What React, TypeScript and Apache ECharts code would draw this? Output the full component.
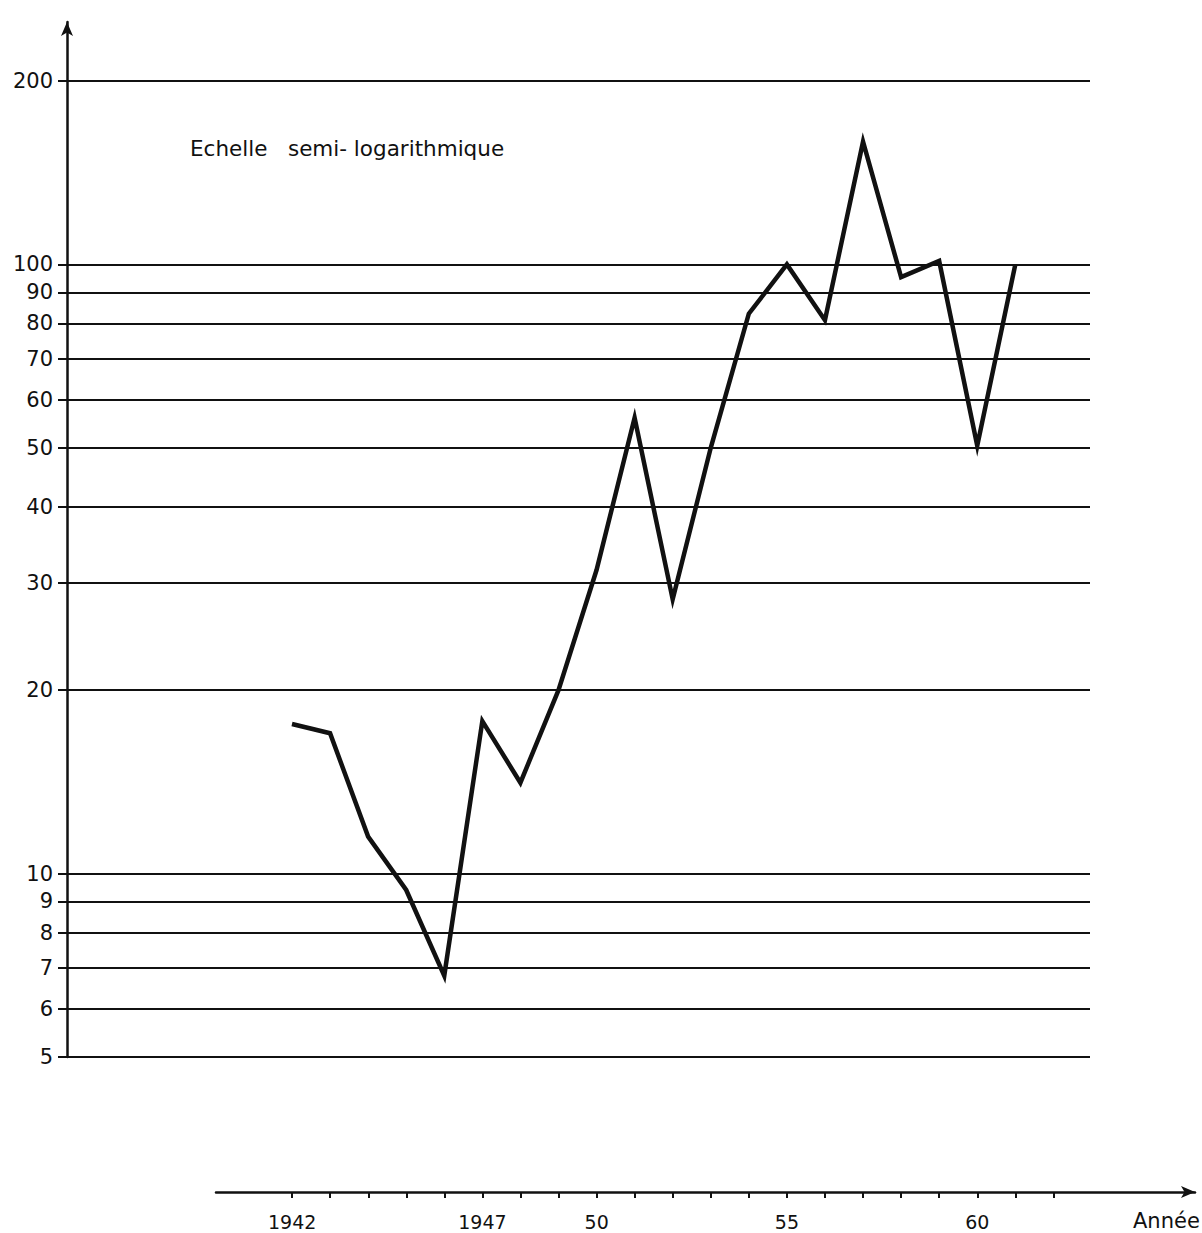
import React, { useEffect, useRef } from 'react';
import * as echarts from 'echarts';

const years = [1942, 1943, 1944, 1945, 1946, 1947, 1948, 1949, 1950, 1951, 1952, 1953, 1954, 1955, 1956, 1957, 1958, 1959, 1960, 1961];
const values = [17.6, 17.0, 11.5, 9.4, 6.8, 17.8, 14.1, 20.0, 31.5, 56, 28.2, 50, 83, 100, 81, 159, 95.3, 101.3, 50.4, 100];

const yTickValues = [5, 6, 7, 8, 9, 10, 20, 30, 40, 50, 60, 70, 80, 90, 100, 200];
const xTickYears = [1942, 1943, 1944, 1945, 1946, 1947, 1948, 1949, 1950, 1951, 1952, 1953, 1954, 1955, 1956, 1957, 1958, 1959, 1960, 1961, 1962];
const xLabelYears = [1942, 1947, 1950, 1955, 1960];
const xLabelTexts = ['1942', '1947', '50', '55', '60'];

const noteText = 'Echelle   semi- logarithmique';
const xAxisTitle = 'Année';

export default function App() {
  const ref = useRef<HTMLDivElement>(null);

  useEffect(() => {
    if (!ref.current) return;
    const chart = echarts.init(ref.current, null, { renderer: 'svg' });
    const ink = '#111111';
    const font = 'DejaVu Sans';

    chart.setOption({
      animation: false,
      backgroundColor: '#ffffff',
      grid: [
        { left: 67, top: 22, width: 1023, height: 1035 },
        { left: 216, top: 1150, width: 979, height: 42 },
      ],
      xAxis: [
        {
          gridIndex: 0,
          type: 'value',
          min: 1936.09,
          max: 1962.962,
          show: false,
          splitLine: { show: false },
        },
        {
          gridIndex: 1,
          type: 'value',
          min: 1940,
          max: 1965.72,
          position: 'bottom',
          axisLine: {
            show: true,
            lineStyle: { color: ink, width: 2.5 },
            symbol: ['none', 'arrow'],
            symbolSize: [9, 14],
          },
          axisTick: {
            show: true,
            customValues: xTickYears,
            length: 6,
            lineStyle: { color: ink, width: 2 },
          },
          axisLabel: {
            show: true,
            customValues: xLabelYears,
            formatter: (v: number) => {
              const i = xLabelYears.indexOf(Math.round(v));
              return i >= 0 ? xLabelTexts[i] : '';
            },
            margin: 20,
            fontSize: 19,
            fontFamily: font,
            color: ink,
          },
          splitLine: { show: false },
        },
      ],
      yAxis: [
        {
          gridIndex: 0,
          type: 'log',
          logBase: 10,
          min: 5,
          max: 250,
          axisLine: {
            show: true,
            lineStyle: { color: ink, width: 2.5 },
            symbol: ['none', 'arrow'],
            symbolSize: [9, 14],
          },
          axisTick: {
            show: true,
            customValues: yTickValues,
            length: 9,
            lineStyle: { color: ink, width: 2 },
          },
          axisLabel: {
            show: true,
            customValues: yTickValues,
            formatter: (v: number) => String(Math.round(v)),
            margin: 14,
            fontSize: 21,
            fontFamily: font,
            color: ink,
          },
          splitLine: { show: true, lineStyle: { color: ink, width: 2 } },
          minorTick: { show: false },
          minorSplitLine: { show: false },
        },
        {
          gridIndex: 1,
          type: 'value',
          min: 0,
          max: 1,
          show: false,
          splitLine: { show: false },
        },
      ],
      series: [
        {
          type: 'line',
          xAxisIndex: 0,
          yAxisIndex: 0,
          data: years.map((y, i) => [y, values[i]]),
          symbol: 'none',
          showSymbol: false,
          lineStyle: { color: ink, width: 4.5, join: 'miter', miterLimit: 6 },
          silent: true,
        },
      ],
      graphic: [
        {
          type: 'text',
          left: 190,
          top: 137,
          style: { text: noteText, font: `21.5px "${font}"`, fill: ink },
        },
        {
          type: 'text',
          left: 1133,
          top: 1210,
          style: { text: xAxisTitle, font: `21px "${font}"`, fill: ink },
        },
      ],
    });

    return () => {
      chart.dispose();
    };
  }, []);

  return (
    <div
      ref={ref}
      style={{ position: 'fixed', left: 0, top: 0, width: 1202, height: 1233, background: '#fff' }}
    />
  );
}
